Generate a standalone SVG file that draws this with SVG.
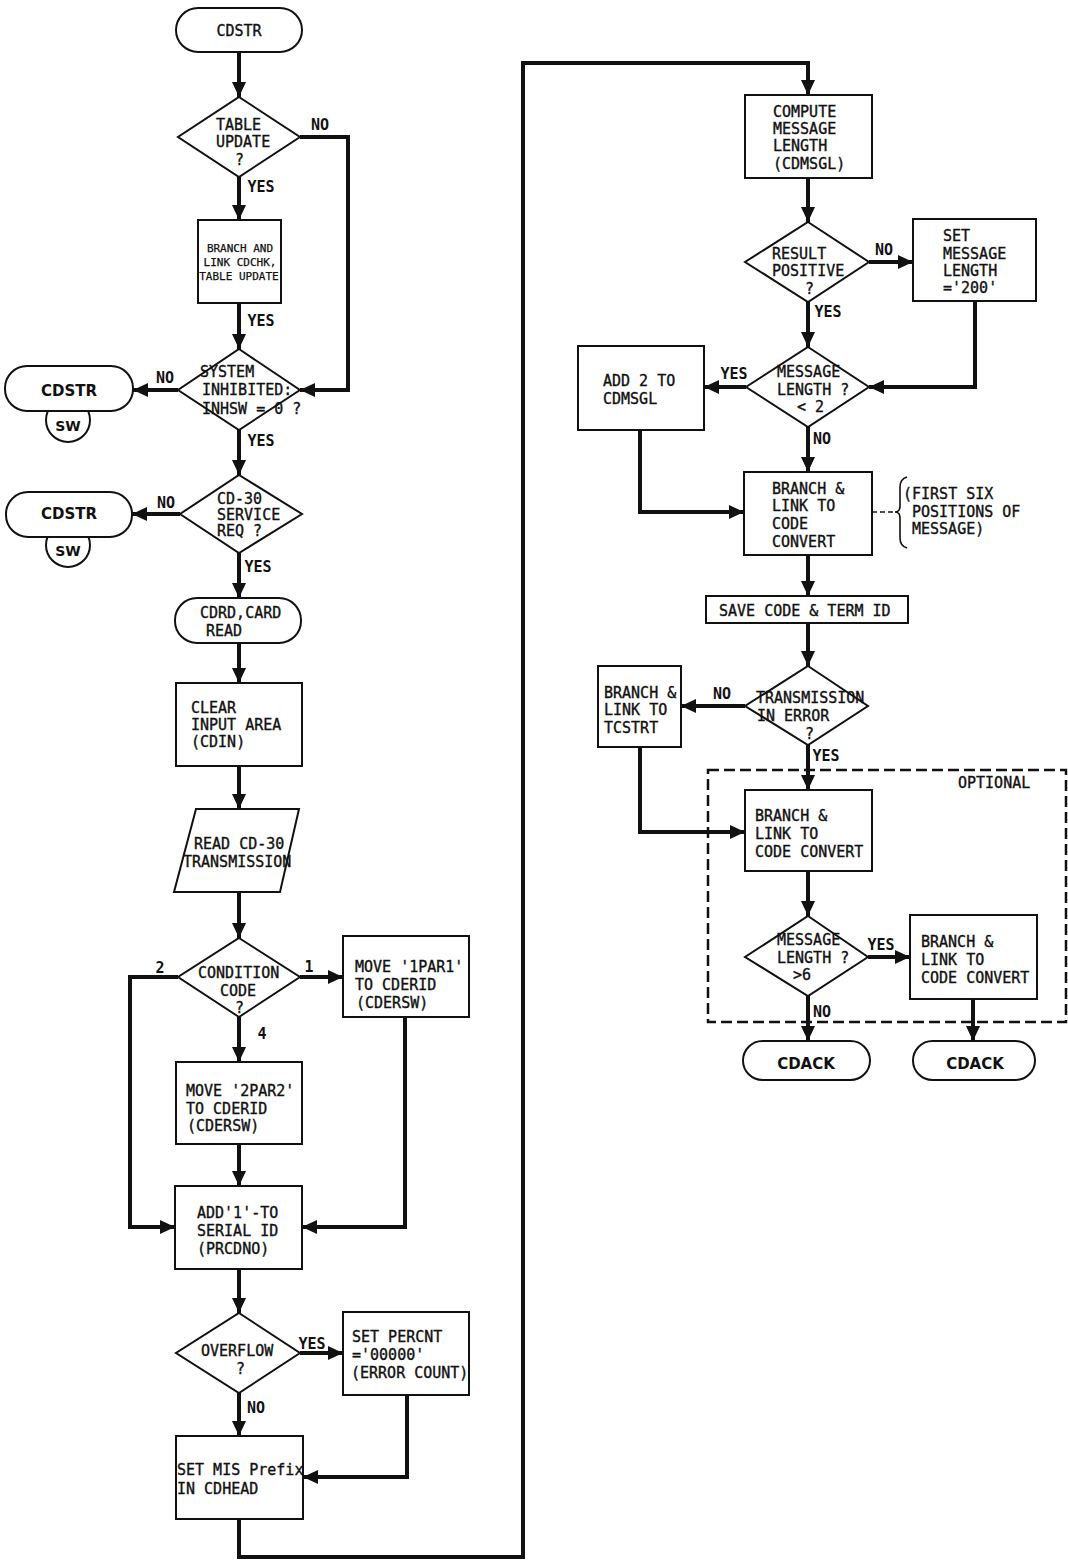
<svg xmlns="http://www.w3.org/2000/svg" width="1068" height="1561" viewBox="0 0 1068 1561">
<defs>
<marker id="ah" markerUnits="userSpaceOnUse" markerWidth="16" markerHeight="14" refX="15" refY="7" orient="auto">
<path d="M0,0 L15,7 L0,14 Z" fill="#111"/>
</marker>
<style>
.n{fill:#fff;stroke:#111;stroke-width:2}
.t{font-family:"DejaVu Sans Mono","Liberation Mono",monospace;font-size:15px;fill:#111;stroke:#111;stroke-width:0.35}
.s{font-size:11px;stroke-width:0.25}
.b{font-weight:bold;font-family:"DejaVu Sans","Liberation Sans",sans-serif;font-size:15px;stroke-width:0}
.c{text-anchor:middle}
.l{font-family:"DejaVu Sans Mono","Liberation Mono",monospace;font-size:15px;font-weight:bold;fill:#111}
.e{fill:none;stroke:#111;stroke-width:4;marker-end:url(#ah)}
</style>
</defs>
<rect width="1068" height="1561" fill="#fff"/>

<g id="connectors">
<path class="e" d="M239,52 V97"/>
<path class="e" d="M300,137 H348 V390 H300"/>
<path class="e" d="M239,177 V220"/>
<path class="e" d="M239,303 V349"/>
<path class="e" d="M178,390 H133"/>
<path class="e" d="M239,430 V475"/>
<path class="e" d="M180,514 H132"/>
<path class="e" d="M239,553 V598"/>
<path class="e" d="M239,643 V683"/>
<path class="e" d="M239,766 V809"/>
<path class="e" d="M239,892 V938"/>
<path class="e" d="M178,977 H130 V1227 H175"/>
<path class="e" d="M300,977 H343"/>
<path class="e" d="M239,1017 V1062"/>
<path class="e" d="M405,1017 V1227 H302"/>
<path class="e" d="M239,1144 V1186"/>
<path class="e" d="M239,1269 V1313"/>
<path class="e" d="M300,1353 H343"/>
<path class="e" d="M239,1393 V1436"/>
<path class="e" d="M407,1395 V1477 H303"/>
<path class="e" d="M239,1519 V1557 H523 V63 H808 V95"/>
<path class="e" d="M808,178 V222"/>
<path class="e" d="M869,262 H913"/>
<path class="e" d="M808,302 V347"/>
<path class="e" d="M975,301 V387 H869"/>
<path class="e" d="M746,387 H704"/>
<path class="e" d="M808,427 V472"/>
<path class="e" d="M640,430 V512 H744"/>
<path d="M872,512 H897" fill="none" stroke="#111" stroke-width="1.5" stroke-dasharray="5 3"/>
<path d="M907,477 Q900,479 900,487 V506 Q900,512 895,512 Q900,512 900,518 V538 Q900,546 907,548" fill="none" stroke="#111" stroke-width="1.6"/>
<path class="e" d="M808,555 V596"/>
<path class="e" d="M808,623 V666"/>
<path class="e" d="M745,706 H681"/>
<path class="e" d="M808,745 V790"/>
<path class="e" d="M640,747 V832 H745"/>
<path class="e" d="M808,871 V916"/>
<path class="e" d="M868,957 H910"/>
<path class="e" d="M808,996 V1041"/>
<path class="e" d="M973,999 V1041"/>
<rect x="708" y="770" width="358" height="252" fill="none" stroke="#111" stroke-width="2.5" stroke-dasharray="11 5"/>
<text class="t" x="958" y="788">OPTIONAL</text>
</g>

<g id="labels">
<text class="l c" x="320" y="130">NO</text>
<text class="l c" x="261" y="192">YES</text>
<text class="l c" x="261" y="326">YES</text>
<text class="l c" x="165" y="383">NO</text>
<text class="l c" x="261" y="446">YES</text>
<text class="l c" x="166" y="508">NO</text>
<text class="l c" x="258" y="572">YES</text>
<text class="l c" x="160" y="973">2</text>
<text class="l c" x="309" y="972">1</text>
<text class="l c" x="262" y="1039">4</text>
<text class="l c" x="312" y="1349">YES</text>
<text class="l c" x="256" y="1413">NO</text>
<text class="l c" x="884" y="255">NO</text>
<text class="l c" x="828" y="317">YES</text>
<text class="l c" x="734" y="379">YES</text>
<text class="l c" x="822" y="444">NO</text>
<text class="l c" x="722" y="699">NO</text>
<text class="l c" x="826" y="761">YES</text>
<text class="l c" x="881" y="950">YES</text>
<text class="l c" x="822" y="1017">NO</text>
</g>

<g id="cdstr_start">
<rect class="n" x="176" y="8" width="126" height="44" rx="22"/>
<text class="t c" x="239" y="36">CDSTR</text>
</g>
<g id="table_update">
<polygon class="n" points="239,97 300,137 239,177 178,137"/>
<text class="t" x="216" y="130">TABLE</text>
<text class="t" x="216" y="147">UPDATE</text>
<text class="t" x="235" y="165">?</text>
</g>
<g id="branch_cdchk">
<rect class="n" x="198" y="220" width="83" height="83"/>
<text class="t s c" x="240" y="252">BRANCH AND</text>
<text class="t s c" x="240" y="266">LINK CDCHK,</text>
<text class="t s c" x="239" y="280">TABLE UPDATE</text>
</g>
<g id="system_inhibited">
<polygon class="n" points="239,349 300,390 239,430 178,390"/>
<text class="t" x="200" y="377">SYSTEM</text>
<text class="t" x="202" y="395">INHIBITED:</text>
<text class="t" x="202" y="414">INHSW = 0 ?</text>
</g>
<g id="cdstr_sw1">
<circle class="n" cx="68" cy="420" r="22"/>
<text class="t b c" x="68" y="431" style="font-size:14px">SW</text>
<rect class="n" x="5" y="366" width="128" height="45" rx="22"/>
<text class="t b c" x="69" y="396">CDSTR</text>
</g>
<g id="cd30_service">
<polygon class="n" points="239,475 302,514 239,553 180,514"/>
<text class="t" x="217" y="504">CD-30</text>
<text class="t" x="217" y="520">SERVICE</text>
<text class="t" x="217" y="536">REQ ?</text>
</g>
<g id="cdstr_sw2">
<circle class="n" cx="68" cy="545" r="22"/>
<text class="t b c" x="68" y="556" style="font-size:14px">SW</text>
<rect class="n" x="6" y="492" width="126" height="45" rx="22"/>
<text class="t b c" x="69" y="519">CDSTR</text>
</g>
<g id="cdrd">
<rect class="n" x="175" y="598" width="126" height="45" rx="22"/>
<text class="t" x="200" y="618">CDRD,CARD</text>
<text class="t" x="206" y="636">READ</text>
</g>
<g id="clear_input">
<rect class="n" x="176" y="683" width="126" height="83"/>
<text class="t" x="191" y="713">CLEAR</text>
<text class="t" x="191" y="730">INPUT AREA</text>
<text class="t" x="191" y="747">(CDIN)</text>
</g>
<g id="read_cd30">
<polygon class="n" points="196,809 299,809 280,892 174,892"/>
<text class="t" x="194" y="849">READ CD-30</text>
<text class="t" x="183" y="867">TRANSMISSION</text>
</g>
<g id="condition_code">
<polygon class="n" points="239,938 300,977 239,1017 178,977"/>
<text class="t" x="198" y="978">CONDITION</text>
<text class="t" x="220" y="996">CODE</text>
<text class="t" x="235" y="1013">?</text>
</g>
<g id="move_1par1">
<rect class="n" x="343" y="936" width="126" height="81"/>
<text class="t" x="355" y="972">MOVE '1PAR1'</text>
<text class="t" x="355" y="990">TO CDERID</text>
<text class="t" x="356" y="1008">(CDERSW)</text>
</g>
<g id="move_2par2">
<rect class="n" x="176" y="1062" width="126" height="82"/>
<text class="t" x="186" y="1096">MOVE '2PAR2'</text>
<text class="t" x="186" y="1114">TO CDERID</text>
<text class="t" x="187" y="1131">(CDERSW)</text>
</g>
<g id="add_serial">
<rect class="n" x="175" y="1186" width="127" height="83"/>
<text class="t" x="197" y="1218">ADD'1'-TO</text>
<text class="t" x="197" y="1236">SERIAL ID</text>
<text class="t" x="197" y="1254">(PRCDNO)</text>
</g>
<g id="overflow">
<polygon class="n" points="239,1313 300,1353 239,1393 176,1353"/>
<text class="t" x="201" y="1356">OVERFLOW</text>
<text class="t" x="236" y="1374">?</text>
</g>
<g id="set_percnt">
<rect class="n" x="343" y="1312" width="126" height="83"/>
<text class="t" x="352" y="1342">SET PERCNT</text>
<text class="t" x="352" y="1360">='00000'</text>
<text class="t" x="351" y="1378">(ERROR COUNT)</text>
</g>
<g id="set_mis">
<rect class="n" x="176" y="1436" width="127" height="83"/>
<text class="t" x="177" y="1475">SET MIS Prefix</text>
<text class="t" x="177" y="1494">IN CDHEAD</text>
</g>

<g id="compute_length">
<rect class="n" x="745" y="95" width="127" height="83"/>
<text class="t" x="773" y="117">COMPUTE</text>
<text class="t" x="773" y="134">MESSAGE</text>
<text class="t" x="773" y="151">LENGTH</text>
<text class="t" x="773" y="169">(CDMSGL)</text>
</g>
<g id="result_positive">
<polygon class="n" points="808,222 869,262 808,302 745,262"/>
<text class="t" x="772" y="259">RESULT</text>
<text class="t" x="772" y="276">POSITIVE</text>
<text class="t" x="805" y="294">?</text>
</g>
<g id="set_200">
<rect class="n" x="913" y="219" width="123" height="82"/>
<text class="t" x="943" y="241">SET</text>
<text class="t" x="943" y="259">MESSAGE</text>
<text class="t" x="943" y="276">LENGTH</text>
<text class="t" x="943" y="293">='200'</text>
</g>
<g id="msg_len_lt2">
<polygon class="n" points="808,347 869,387 808,427 746,387"/>
<text class="t" x="777" y="377">MESSAGE</text>
<text class="t" x="777" y="395">LENGTH  ?</text>
<text class="t" x="797" y="412">&lt; 2</text>
</g>
<g id="add2">
<rect class="n" x="578" y="346" width="126" height="84"/>
<text class="t" x="603" y="386">ADD 2 TO</text>
<text class="t" x="603" y="404">CDMSGL</text>
</g>
<g id="branch_cc1">
<rect class="n" x="744" y="472" width="128" height="83"/>
<text class="t" x="772" y="494">BRANCH &amp;</text>
<text class="t" x="772" y="511">LINK TO</text>
<text class="t" x="772" y="529">CODE</text>
<text class="t" x="772" y="547">CONVERT</text>
</g>
<g id="note_first_six">
<text class="t" x="903" y="499">(FIRST SIX</text>
<text class="t" x="912" y="517">POSITIONS OF</text>
<text class="t" x="912" y="534">MESSAGE)</text>
</g>
<g id="save_code">
<rect class="n" x="706" y="596" width="202" height="27"/>
<text class="t" x="719" y="616">SAVE CODE &amp; TERM ID</text>
</g>
<g id="transmission_error">
<polygon class="n" points="808,666 868,706 808,745 745,706"/>
<text class="t" x="756" y="703">TRANSMISSION</text>
<text class="t" x="757" y="721">IN ERROR</text>
<text class="t" x="805" y="739">?</text>
</g>
<g id="branch_tcstrt">
<rect class="n" x="598" y="666" width="83" height="81"/>
<text class="t" x="604" y="698">BRANCH &amp;</text>
<text class="t" x="604" y="715">LINK TO</text>
<text class="t" x="604" y="733">TCSTRT</text>
</g>
<g id="branch_cc2">
<rect class="n" x="745" y="790" width="127" height="81"/>
<text class="t" x="755" y="821">BRANCH &amp;</text>
<text class="t" x="755" y="839">LINK TO</text>
<text class="t" x="755" y="857">CODE CONVERT</text>
</g>
<g id="msg_len_gt6">
<polygon class="n" points="808,916 868,957 808,996 745,957"/>
<text class="t" x="777" y="945">MESSAGE</text>
<text class="t" x="777" y="963">LENGTH ?</text>
<text class="t" x="793" y="980">&gt;6</text>
</g>
<g id="branch_cc3">
<rect class="n" x="910" y="915" width="127" height="84"/>
<text class="t" x="921" y="947">BRANCH &amp;</text>
<text class="t" x="921" y="965">LINK TO</text>
<text class="t" x="921" y="983">CODE CONVERT</text>
</g>
<g id="cdack1">
<rect class="n" x="743" y="1041" width="127" height="39" rx="19.5"/>
<text class="t b c" x="806" y="1069">CDACK</text>
</g>
<g id="cdack2">
<rect class="n" x="913" y="1041" width="122" height="39" rx="19.5"/>
<text class="t b c" x="975" y="1069">CDACK</text>
</g>
</svg>
